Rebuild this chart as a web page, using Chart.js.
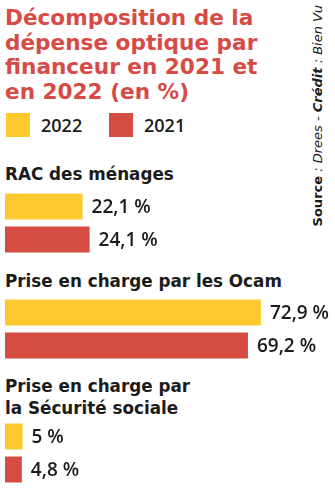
<!DOCTYPE html>
<html lang="fr">
<head>
<meta charset="utf-8">
<script src="https://cdn.jsdelivr.net/npm/chart.js@4/dist/chart.umd.min.js"></script>
<style>
    body { margin: 0; width: 335px; height: 488px; background: #fff; position: relative; overflow: hidden; font-family: 'Open Sans', sans-serif; color: #1b1b1b; }
    .abs { position: absolute; }
    #title { left: 5px; top: 6px; font-family: 'DejaVu Sans', sans-serif; font-size: 21.6px; line-height: 24.7px; font-weight: 700; color: #d64b45; }
    .legend-box { width: 24px; height: 24px; top: 113px; }
    .legend-txt { top: 113px; font-size: 18px; line-height: 24px; font-weight: 600; }
    .cat { left: 5px; font-family: 'DejaVu Sans', sans-serif; font-size: 16.8px; line-height: 22.6px; font-weight: 700; white-space: pre; }
    #source { left: 310px; top: 5px; font-family: 'DejaVu Sans', sans-serif; font-size: 13px; line-height: 15px; writing-mode: vertical-rl; transform: rotate(180deg); white-space: nowrap; }
    canvas { position: absolute; left: 0; }
</style>
</head>
<body>
<div id="title" class="abs">Décomposition de la<br>dépense optique par<br>financeur en 2021 et<br>en 2022 (en %)</div>
<div id="legend"></div>
<div id="source" class="abs"><b>Source</b> <i>: Drees - </i><b><i>Crédit</i></b><i> : Bien Vu</i></div>
<div id="charts"></div>
<script>
const categories = ['RAC des ménages', 'Prise en charge par les Ocam', 'Prise en charge par\nla Sécurité sociale'];
const years = ['2022', '2021'];
const values2022 = [22.1, 72.9, 5];
const values2021 = [24.1, 69.2, 4.8];
const colors = ['#fdc92f', '#d54d42'];

// where each block sits on the page
const labelTops = [163, 270, 374.6];
const chartTops = [190, 296, 420];
const legendBoxX = [6, 109];
const legendTextX = [41, 144];

const legend = document.getElementById('legend');
years.forEach((y, i) => {
    const box = document.createElement('div');
    box.className = 'abs legend-box';
    box.style.left = legendBoxX[i] + 'px';
    box.style.background = colors[i];
    legend.appendChild(box);
    const txt = document.createElement('div');
    txt.className = 'abs legend-txt';
    txt.style.left = legendTextX[i] + 'px';
    txt.textContent = y;
    legend.appendChild(txt);
});

const fmt = (v) => v.toLocaleString('fr-FR') + ' %';

const valueLabels = {
    id: 'valueLabels',
    afterDatasetsDraw(chart) {
        const ctx = chart.ctx;
        ctx.save();
        ctx.font = '600 19px "Open Sans", sans-serif';
        ctx.fillStyle = '#1b1b1b';
        ctx.textBaseline = 'middle';
        chart.getDatasetMeta(0).data.forEach((bar, i) => {
            ctx.fillText(fmt(chart.data.datasets[0].data[i]), bar.x + 9, bar.y + 1);
        });
        ctx.restore();
    }
};

const holder = document.getElementById('charts');
categories.forEach((cat, i) => {
    const lab = document.createElement('div');
    lab.className = 'abs cat';
    lab.style.top = labelTops[i] + 'px';
    lab.textContent = cat;
    holder.appendChild(lab);

    const cv = document.createElement('canvas');
    cv.width = 335;
    cv.height = 66;
    cv.style.top = chartTops[i] + 'px';
    holder.appendChild(cv);

    new Chart(cv.getContext('2d'), {
        type: 'bar',
        data: {
            labels: years,
            datasets: [{
                data: [values2022[i], values2021[i]],
                backgroundColor: colors,
                barPercentage: 26 / 33,
                categoryPercentage: 1
            }]
        },
        options: {
            indexAxis: 'y',
            responsive: false,
            animation: false,
            layout: { padding: { left: 5, right: 0, top: 0, bottom: 0 } },
            plugins: { legend: { display: false }, tooltip: { enabled: false } },
            scales: {
                x: { display: false, min: 0, max: 94 },
                y: { display: false }
            }
        },
        plugins: [valueLabels]
    });
});
</script>
</body>
</html>
